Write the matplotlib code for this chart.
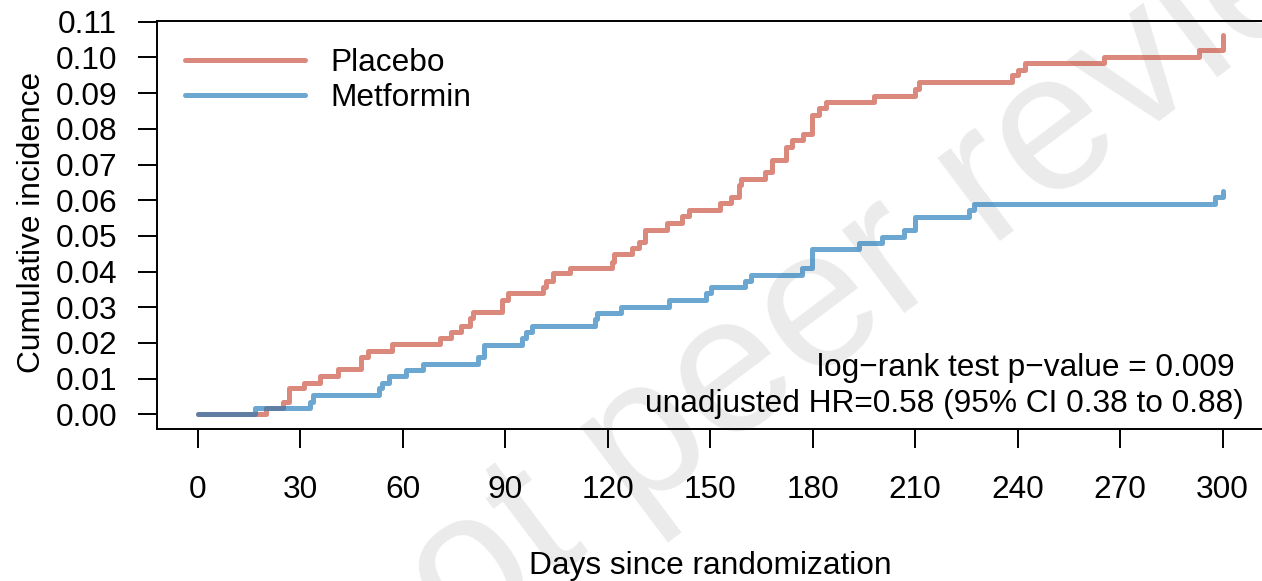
import matplotlib
matplotlib.use('Agg')
import matplotlib.pyplot as plt

plt.rcParams['font.family'] = ['Liberation Sans', 'DejaVu Sans']

# Kaplan-Meier style cumulative incidence
placebo_days = [0, 20.0, 24.9, 26.8, 31.0, 35.8, 41.0, 47.8, 49.8, 56.8,
                70.8, 74.0, 77.0, 79.6, 80.5, 89.1, 90.9, 101.1, 102.0, 104.0,
                109.0, 121.2, 122.0, 127.2, 129.2, 130.8, 137.5, 141.9, 143.7,
                153.0, 156.1, 158.4, 159.0, 166.0, 168.0, 172.1, 174.1, 177.1,
                179.8, 182.0, 184.0, 198.1, 210.1, 211.0, 238.4, 240.0, 242.1,
                265.3, 293.1, 300.0]
placebo_inc = [0.0, 0.0017, 0.0035, 0.0073, 0.0089, 0.0108, 0.0126, 0.0161,
               0.0178, 0.0197, 0.0215, 0.0231, 0.0248, 0.0269, 0.0286, 0.0320,
               0.0341, 0.0357, 0.0373, 0.0395, 0.0411, 0.0427, 0.0448, 0.0465,
               0.0484, 0.0516, 0.0535, 0.0555, 0.0572, 0.0591, 0.0610, 0.0642,
               0.0660, 0.0678, 0.0714, 0.0750, 0.0768, 0.0785, 0.0838, 0.0857,
               0.0876, 0.0892, 0.0911, 0.0930, 0.0950, 0.0966, 0.0985, 0.1002,
               0.1022, 0.1064]

metformin_days = [0, 16.9, 32.9, 33.7, 53.0, 53.9, 56.0, 61.0, 65.9, 82.0,
                  83.8, 95.0, 96.0, 98.0, 116.3, 117.0, 123.8, 138.1, 148.9,
                  150.2, 160.1, 162.0, 176.9, 179.9, 193.5, 200.4, 206.8,
                  210.0, 225.8, 227.3, 297.9, 300.0]
metformin_inc = [0.0, 0.0017, 0.0035, 0.0054, 0.0073, 0.0089, 0.0107, 0.0124,
                 0.0141, 0.0161, 0.0194, 0.0213, 0.0230, 0.0247, 0.0266,
                 0.0285, 0.0302, 0.0321, 0.0339, 0.0356, 0.0373, 0.0390,
                 0.0409, 0.0462, 0.0479, 0.0497, 0.0516, 0.0553, 0.0572,
                 0.0589, 0.0608, 0.0626]

x_ticks = list(range(0, 301, 30))
y_ticks = [i / 100 for i in range(0, 12)]

fs = 22.8
col_pl = (200 / 255, 74 / 255, 54 / 255, 0.65)
col_mf = (30 / 255, 120 / 255, 185 / 255, 0.65)

fig = plt.figure(figsize=(12.62, 5.81), dpi=100)
ax = fig.add_axes([0.1242, 0.2611, 0.877, 0.7033])
ax.set_facecolor('none')

# watermark behind everything
fig.text(0.2954, -0.2296, 'not peer reviewed', fontsize=141, color='#EBEBEB',
         rotation=37, rotation_mode='anchor', ha='left', va='baseline',
         zorder=-1)

ax.step(placebo_days, placebo_inc, where='post', color=col_pl, lw=3.6,
        solid_capstyle='round', label='Placebo')
ax.step(metformin_days, metformin_inc, where='post', color=col_mf, lw=3.6,
        solid_capstyle='round', label='Metformin')

ax.set_xlim(-12, 312)
ax.set_ylim(-0.0042, 0.1103)
ax.set_xticks(x_ticks)
ax.set_yticks(y_ticks)
ax.set_yticklabels(['%.2f' % v for v in y_ticks])
ax.tick_params(axis='both', labelsize=fs, length=13.7, width=1.4,
               direction='out')
ax.tick_params(axis='x', pad=19.5)
ax.tick_params(axis='y', pad=15)
for s in ax.spines.values():
    s.set_linewidth(1.4)

ax.set_xlabel('Days since randomization', fontsize=fs, labelpad=33)
fig.text(0.0255, 1 - 222 / 581, 'Cumulative incidence', fontsize=fs,
         rotation=90, ha='center', va='center')

leg = ax.legend(loc='upper left', bbox_to_anchor=(0.0256, 0.933),
                frameon=False, fontsize=fs, handlelength=3.78,
                handletextpad=0.8, labelspacing=0.15, borderpad=0,
                borderaxespad=0)

ax.text((1235 - 156.7) / 1106.8, (429.3 - 376) / 408.6,
        'log\u2212rank test p\u2212value = 0.009', transform=ax.transAxes,
        fontsize=fs, ha='right', va='baseline')
ax.text((1243.7 - 156.7) / 1106.8, (429.3 - 412) / 408.6,
        'unadjusted HR=0.58 (95% CI 0.38 to 0.88)', transform=ax.transAxes,
        fontsize=fs, ha='right', va='baseline')

fig.savefig('out.png', dpi=100)
